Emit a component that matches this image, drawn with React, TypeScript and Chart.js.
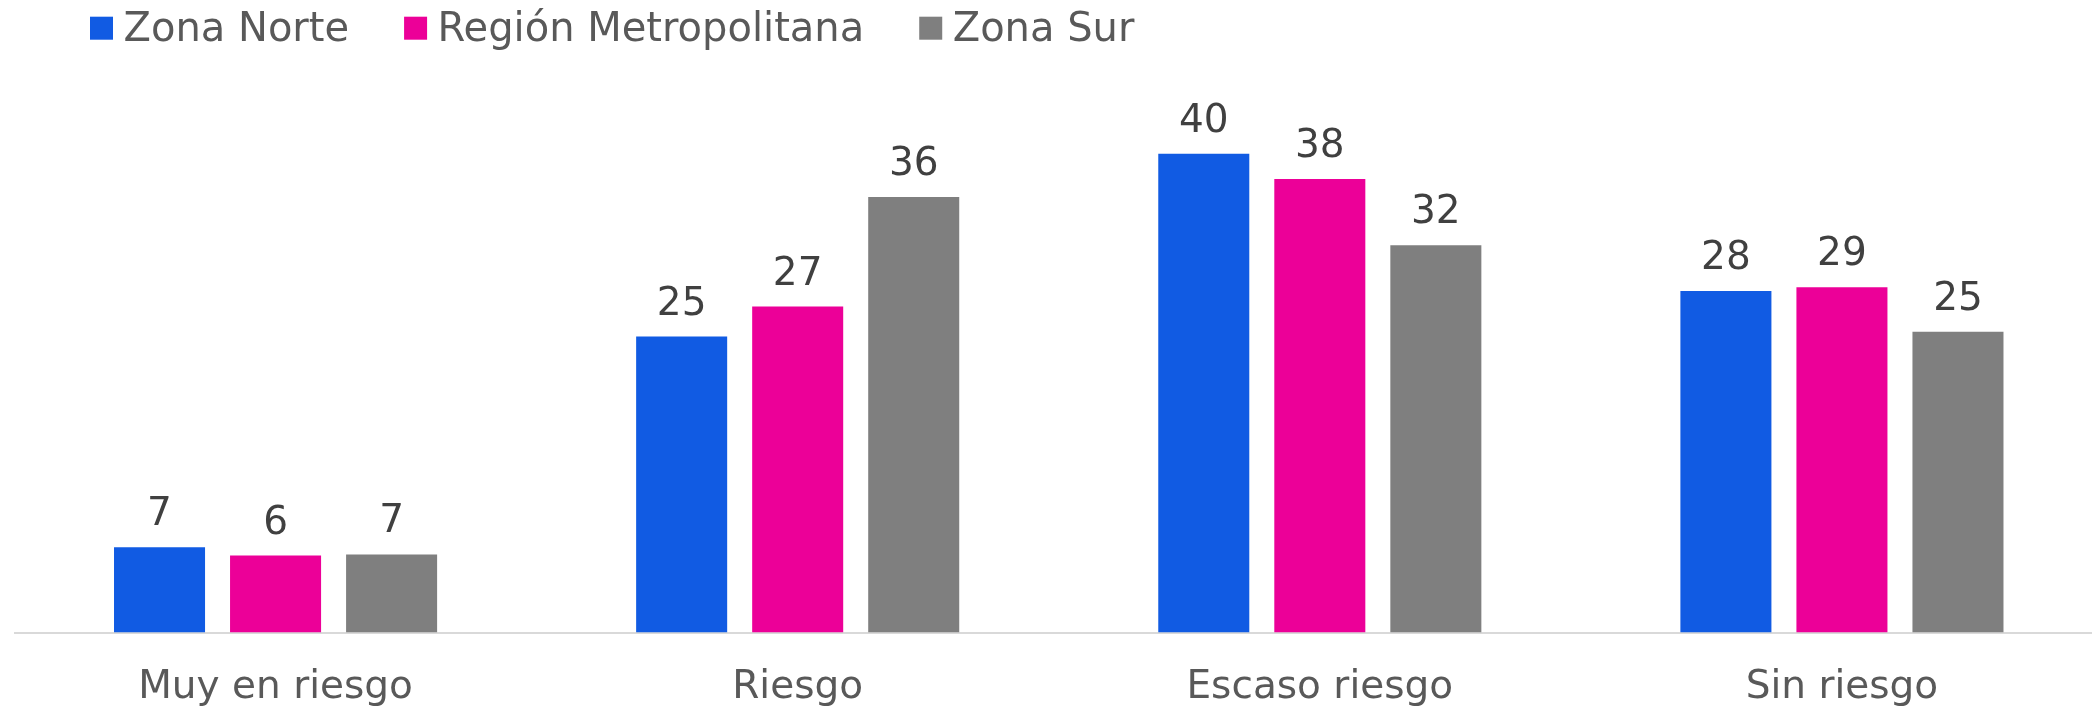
import React, { useEffect, useRef } from "react";
import { Chart, registerables } from "chart.js";

Chart.register(...registerables);

const categories = ["Muy en riesgo", "Riesgo", "Escaso riesgo", "Sin riesgo"];
const seriesNames = ["Zona Norte", "Región Metropolitana", "Zona Sur"];
const zonaNorte = [7.1, 24.6, 39.8, 28.4];
const regionMetropolitana = [6.4, 27.1, 37.7, 28.7];
const zonaSur = [6.5, 36.2, 32.2, 25.0];
const seriesColors = ["#115BE3", "#EC0098", "#7F7F7F"];
const yMax = 45;

const FONT = "'DejaVu Sans', sans-serif";

const valueLabelPlugin = {
  id: "valueLabels",
  afterDatasetsDraw(chart: any) {
    const ctx = chart.ctx;
    ctx.save();
    ctx.font = `39px ${FONT}`;
    ctx.fillStyle = "#404040";
    ctx.textAlign = "center";
    ctx.textBaseline = "alphabetic";
    chart.data.datasets.forEach((ds: any, i: number) => {
      const meta = chart.getDatasetMeta(i);
      meta.data.forEach((bar: any, j: number) => {
        const v = ds.data[j];
        ctx.fillText(String(Math.round(v)), bar.x, bar.y - 22);
      });
    });
    ctx.restore();
  },
};

const customLegendPlugin = {
  id: "customLegend",
  afterDraw(chart: any) {
    const ctx = chart.ctx;
    ctx.save();
    ctx.font = `40px ${FONT}`;
    ctx.textBaseline = "alphabetic";
    ctx.textAlign = "left";
    let x = 90;
    chart.data.datasets.forEach((ds: any) => {
      ctx.fillStyle = ds.backgroundColor;
      ctx.fillRect(x, 16.7, 23, 23);
      const tx = x + 33.5;
      ctx.fillStyle = "#595959";
      ctx.fillText(ds.label, tx, 40.7);
      x = tx + ctx.measureText(ds.label).width + 55;
    });
    ctx.restore();
  },
};

export default function App() {
  const canvasRef = useRef<HTMLCanvasElement | null>(null);

  useEffect(() => {
    if (!canvasRef.current) return;
    const seriesData = [zonaNorte, regionMetropolitana, zonaSur];
    const chart = new Chart(canvasRef.current, {
      type: "bar",
      data: {
        labels: categories,
        datasets: seriesNames.map((name, i) => ({
          label: name,
          data: seriesData[i],
          backgroundColor: seriesColors[i],
          borderWidth: 0,
          categoryPercentage: 0.6667,
          barPercentage: 0.7845,
        })),
      },
      options: {
        animation: false,
        responsive: false,
        devicePixelRatio: 1,
        layout: { padding: { left: 14.5, right: 0, top: 91.15, bottom: 0 } },
        plugins: {
          legend: { display: false },
          tooltip: { enabled: false },
        },
        scales: {
          x: {
            grid: { display: false, drawTicks: false },
            border: { display: true, color: "#D9D9D9", width: 2 },
            ticks: {
              color: "#595959",
              font: { family: FONT, size: 39, lineHeight: 1 },
              padding: 35.7,
              maxRotation: 0,
              autoSkip: false,
            },
          },
          y: {
            display: false,
            min: 0,
            max: yMax,
          },
        },
      },
      plugins: [valueLabelPlugin, customLegendPlugin],
    });
    return () => chart.destroy();
  }, []);

  return (
    <div
      style={{
        position: "fixed",
        left: 0,
        top: 0,
        width: 2092,
        height: 709,
        overflow: "hidden",
        background: "#ffffff",
      }}
    >
      <canvas
        ref={canvasRef}
        width={2103}
        height={743}
        style={{ display: "block", width: 2103, height: 743 }}
      />
    </div>
  );
}
